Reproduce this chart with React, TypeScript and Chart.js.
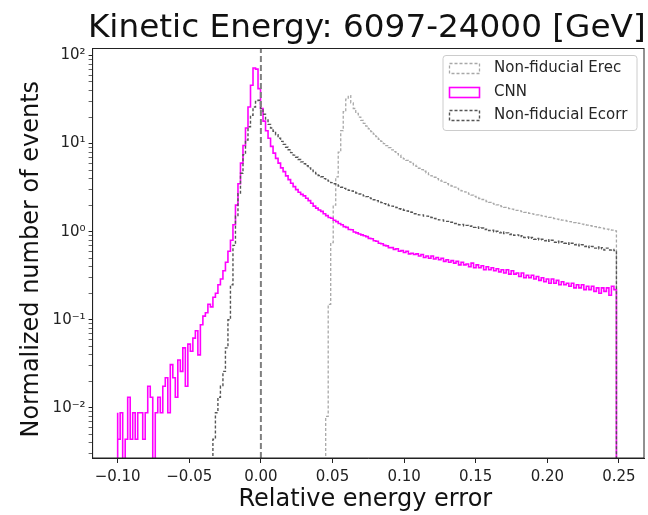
import React, { useEffect, useRef } from "react";
import { Chart, registerables } from "chart.js";

Chart.register(...registerables);

// ---------- texts ----------
const TITLE = "Kinetic Energy: 6097-24000 [GeV]";
const X_LABEL = "Relative energy error";
const Y_LABEL = "Normalized number of events";

// ---------- histogram bins (common grid from -0.10 to 0.25, 200 bins) ----------
const BIN_WIDTH = 0.00175;

// CNN histogram (first bin starts at CNN_START)
const CNN_START = -0.1;
const CNN_VALUES = [
  0.0088, 0.0044, 0.0088, 0, 0.0044, 0.0132, 0.0044, 0.0088, 0.0044, 0.0088,
  0.0088, 0.0044, 0.0088, 0.0176, 0.0132, 0, 0.0088, 0.0132, 0.0088, 0.0176,
  0.022, 0.0088, 0.031, 0.022, 0.0132, 0.035, 0.026, 0.048, 0.0176, 0.053,
  0.044, 0.062, 0.075, 0.04, 0.088, 0.11, 0.12, 0.15, 0.14, 0.18,
  0.2, 0.25, 0.29, 0.36, 0.45, 0.6, 0.8, 1.2, 2.0, 3.5,
  6.0, 9.5, 15, 26, 46, 72, 70, 42, 25, 18,
  14, 11.5, 9.3, 7.8, 6.8, 6.0, 5.3, 4.8, 4.3, 3.9,
  3.55, 3.25, 3.0, 2.8, 2.65, 2.55, 2.4, 2.25, 2.1, 1.95,
  1.85, 1.76, 1.7, 1.6, 1.52, 1.45, 1.42, 1.35, 1.3, 1.24,
  1.2, 1.14, 1.12, 1.06, 1.05, 0.99, 0.97, 0.94, 0.92, 0.9,
  0.88, 0.84, 0.83, 0.79, 0.78, 0.74, 0.73, 0.7, 0.69, 0.66,
  0.66, 0.63, 0.64, 0.6, 0.61, 0.58, 0.6, 0.56, 0.57, 0.55,
  0.56, 0.53, 0.55, 0.51, 0.53, 0.5, 0.53, 0.49, 0.51, 0.48,
  0.5, 0.46, 0.48, 0.45, 0.47, 0.44, 0.46, 0.42, 0.45, 0.42,
  0.43, 0.4, 0.44, 0.39, 0.42, 0.39, 0.41, 0.37, 0.4, 0.37,
  0.39, 0.36, 0.38, 0.35, 0.37, 0.34, 0.37, 0.33, 0.36, 0.33,
  0.34, 0.31, 0.34, 0.3, 0.32, 0.3, 0.32, 0.29, 0.31, 0.28,
  0.3, 0.27, 0.29, 0.26, 0.29, 0.26, 0.28, 0.25, 0.27, 0.25,
  0.26, 0.24, 0.26, 0.23, 0.25, 0.23, 0.25, 0.22, 0.24, 0.22,
  0.24, 0.21, 0.23, 0.2, 0.23, 0.21, 0.23, 0.19, 0.24, 0.22,
];

// Non-fiducial Erec histogram
const EREC_START = 0.04525;
const EREC_VALUES = [
  0.0044, 0.008, 0.15, 0.75, 2.0, 4.2, 8.0, 14, 23, 32,
  35, 29, 25, 22, 20, 18.3, 17, 15.8, 14.7, 13.7,
  12.8, 12.0, 11.2, 10.6, 10.0, 9.5, 9.0, 8.5, 8.1, 7.7,
  7.4, 7.0, 6.7, 6.45, 6.2, 5.95, 5.7, 5.5, 5.25, 5.05,
  4.85, 4.65, 4.45, 4.3, 4.15, 4.0, 3.87, 3.75, 3.63, 3.5,
  3.4, 3.3, 3.2, 3.1, 3.0, 2.9, 2.83, 2.75, 2.67, 2.6,
  2.52, 2.45, 2.38, 2.32, 2.26, 2.2, 2.15, 2.1, 2.06, 2.01,
  1.97, 1.93, 1.89, 1.86, 1.83, 1.8, 1.78, 1.75, 1.72, 1.69,
  1.66, 1.64, 1.61, 1.59, 1.57, 1.55, 1.53, 1.51, 1.49, 1.47,
  1.45, 1.43, 1.41, 1.39, 1.37, 1.35, 1.34, 1.32, 1.3, 1.29,
  1.27, 1.25, 1.24, 1.22, 1.2, 1.19, 1.17, 1.16, 1.14, 1.13,
  1.11, 1.1, 1.08, 1.07, 1.05, 1.04, 1.02,
];

// Non-fiducial Ecorr histogram
const ECORR_START = -0.0335;
const ECORR_VALUES = [
  0.0044, 0.0044, 0.0088, 0.0132, 0.0176, 0.026, 0.048, 0.1, 0.25, 0.7,
  1.5, 2.7, 4.6, 7.5, 11, 15.5, 21, 26, 30, 31,
  25, 21.5, 18.5, 16.5, 15, 13.8, 12.6, 11.5, 10.6, 9.8,
  9.1, 8.5, 7.9, 7.4, 7.0, 6.6, 6.2, 5.9, 5.6, 5.3,
  5.0, 4.8, 4.55, 4.35, 4.2, 4.0, 3.85, 3.75, 3.6, 3.5,
  3.4, 3.3, 3.2, 3.1, 3.05, 2.95, 2.9, 2.8, 2.75, 2.68,
  2.62, 2.55, 2.5, 2.42, 2.38, 2.3, 2.25, 2.18, 2.14, 2.08,
  2.05, 1.98, 1.95, 1.9, 1.88, 1.82, 1.8, 1.75, 1.72, 1.67,
  1.66, 1.6, 1.6, 1.55, 1.55, 1.5, 1.5, 1.46, 1.45, 1.41,
  1.4, 1.36, 1.36, 1.32, 1.31, 1.28, 1.28, 1.24, 1.24, 1.2,
  1.21, 1.17, 1.18, 1.15, 1.16, 1.12, 1.13, 1.09, 1.1, 1.06,
  1.07, 1.03, 1.04, 1.0, 1.01, 0.97, 0.99, 0.95, 0.97, 0.93,
  0.94, 0.91, 0.92, 0.88, 0.9, 0.86, 0.87, 0.84, 0.86, 0.82,
  0.84, 0.81, 0.82, 0.79, 0.81, 0.78, 0.8, 0.76, 0.78, 0.75,
  0.77, 0.74, 0.75, 0.72, 0.74, 0.71, 0.72, 0.69, 0.71, 0.68,
  0.69, 0.66, 0.68, 0.65, 0.67, 0.64, 0.66, 0.62, 0.65, 0.62,
  0.63, 0.61,
];

const SERIES_LABELS = ["Non-fiducial Erec", "CNN", "Non-fiducial Ecorr"];
const ZERO_LINE_X = 0;

// ---------- axes ----------
const X_MIN = -0.1175;
const X_MAX = 0.2675;
const Y_MIN = 0.0027;
const Y_MAX = 120;
const X_TICKS = [-0.1, -0.05, 0, 0.05, 0.1, 0.15, 0.2, 0.25];
const X_TICK_LABELS = ["−0.10", "−0.05", "0.00", "0.05", "0.10", "0.15", "0.20", "0.25"];
const Y_MAJOR_TICKS = [0.01, 0.1, 1, 10, 100];
const Y_TICK_LABELS = ["10⁻²", "10⁻¹", "10⁰", "10¹", "10²"];
const Y_DECADES = [-3, -2, -1, 0, 1, 2];

const FONT = '"DejaVu Sans", "Liberation Sans", sans-serif';

function stepPoints(start: number, values: number[]) {
  const floor = Y_MIN / 10;
  const pts: { x: number; y: number }[] = [{ x: start, y: floor }];
  values.forEach((v, i) => {
    pts.push({ x: start + i * BIN_WIDTH, y: v > 0 ? v : floor });
  });
  pts.push({ x: start + values.length * BIN_WIDTH, y: floor });
  return pts;
}

const decorPlugin = {
  id: "decor",
  afterDraw(chart: any) {
    const { ctx, chartArea: a } = chart;
    ctx.save();
    // frame (spines)
    ctx.setLineDash([]);
    ctx.strokeStyle = "#222";
    ctx.lineWidth = 1;
    ctx.strokeRect(a.left, a.top, a.right - a.left, a.bottom - a.top);

    // title
    ctx.fillStyle = "#111";
    ctx.textAlign = "center";
    ctx.textBaseline = "alphabetic";
    ctx.font = `32.7px ${FONT}`;
    ctx.fillText(TITLE, (a.left + a.right) / 2 - 1.5, 37);

    // x label
    ctx.font = `24px ${FONT}`;
    ctx.fillText(X_LABEL, (a.left + a.right) / 2 - 3, 506);

    // y label
    ctx.save();
    ctx.translate(38, (a.top + a.bottom) / 2 + 6);
    ctx.rotate(-Math.PI / 2);
    ctx.fillText(Y_LABEL, 0, 0);
    ctx.restore();

    // legend
    const boxW = 194;
    const boxH = 75;
    const bx = a.right - 7 - boxW;
    const by = a.top + 7;
    const r = 3;
    ctx.beginPath();
    ctx.moveTo(bx + r, by);
    ctx.lineTo(bx + boxW - r, by);
    ctx.arcTo(bx + boxW, by, bx + boxW, by + r, r);
    ctx.lineTo(bx + boxW, by + boxH - r);
    ctx.arcTo(bx + boxW, by + boxH, bx + boxW - r, by + boxH, r);
    ctx.lineTo(bx + r, by + boxH);
    ctx.arcTo(bx, by + boxH, bx, by + boxH - r, r);
    ctx.lineTo(bx, by + r);
    ctx.arcTo(bx, by, bx + r, by, r);
    ctx.closePath();
    ctx.fillStyle = "rgba(255,255,255,0.8)";
    ctx.fill();
    ctx.strokeStyle = "#cccccc";
    ctx.lineWidth = 1;
    ctx.stroke();

    const rowY = [by + 13, by + 37, by + 60];
    ctx.font = `15px ${FONT}`;
    ctx.textAlign = "left";
    ctx.textBaseline = "middle";
    SERIES_LABELS.forEach((label, i) => {
      const ds = chart.data.datasets[i];
      ctx.save();
      ctx.strokeStyle = ds.borderColor;
      ctx.lineWidth = ds.borderWidth;
      ctx.setLineDash(ds.borderDash || []);
      ctx.strokeRect(bx + 6.5, rowY[i] - 5, 30, 10);
      ctx.restore();
      ctx.fillStyle = "#262626";
      ctx.fillText(label, bx + 51, rowY[i]);
    });
    ctx.restore();
  },
};

export default function App() {
  const ref = useRef<HTMLCanvasElement>(null);

  useEffect(() => {
    if (!ref.current) return;
    const common = {
      showLine: true,
      stepped: "after" as const,
      pointRadius: 0,
      pointHoverRadius: 0,
      fill: false,
      tension: 0,
      clip: 0,
    };
    const chart = new Chart(ref.current, {
      type: "line",
      data: {
        datasets: [
          {
            ...common,
            label: SERIES_LABELS[0],
            data: stepPoints(EREC_START, EREC_VALUES),
            borderColor: "#a8a8a8",
            borderWidth: 1.3,
            borderDash: [3, 2],
            order: 4,
          },
          {
            ...common,
            label: SERIES_LABELS[1],
            data: stepPoints(CNN_START, CNN_VALUES),
            borderColor: "#ff00ff",
            borderWidth: 1.6,
            borderDash: [],
            order: 3,
          },
          {
            ...common,
            label: SERIES_LABELS[2],
            data: stepPoints(ECORR_START, ECORR_VALUES),
            borderColor: "#555555",
            borderWidth: 1.4,
            borderDash: [3, 2],
            order: 2,
          },
          {
            ...common,
            stepped: false,
            label: "zero",
            data: [
              { x: ZERO_LINE_X, y: Y_MIN },
              { x: ZERO_LINE_X, y: Y_MAX },
            ],
            borderColor: "#7f7f7f",
            borderWidth: 2,
            borderDash: [6, 3],
            order: 1,
          },
        ],
      } as any,
      options: {
        responsive: false,
        animation: false,
        devicePixelRatio: 1,
        events: [],
        layout: { padding: { top: 48.5, right: 4, bottom: 0, left: 0 } },
        plugins: {
          legend: { display: false },
          tooltip: { enabled: false },
          title: { display: false },
        },
        scales: {
          x: {
            type: "linear",
            min: X_MIN,
            max: X_MAX,
            afterBuildTicks: (scale: any) => {
              scale.ticks = X_TICKS.map((v) => ({ value: v }));
            },
            afterFit: (scale: any) => {
              scale.height = 57;
            },
            ticks: {
              autoSkip: false,
              maxRotation: 0,
              minRotation: 0,
              padding: 5,
              color: "#222",
              font: { family: FONT, size: 15 },
              callback: (_v: any, i: number) => X_TICK_LABELS[i],
            },
            grid: {
              drawOnChartArea: false,
              drawTicks: true,
              tickLength: 5,
              tickColor: "#222",
              tickWidth: 1,
            },
            border: { display: true, color: "#222", width: 1 },
          },
          y: {
            type: "logarithmic",
            min: Y_MIN,
            max: Y_MAX,
            afterBuildTicks: (scale: any) => {
              const ticks: any[] = [];
              for (const d of Y_DECADES) {
                for (let m = 1; m <= 9; m++) {
                  const v = m * Math.pow(10, d);
                  if (v >= Y_MIN && v <= Y_MAX) ticks.push({ value: v, major: m === 1 });
                }
              }
              scale.ticks = ticks;
            },
            afterFit: (scale: any) => {
              scale.width = 92.6;
            },
            ticks: {
              autoSkip: false,
              padding: 3,
              color: "#222",
              font: { family: FONT, size: 15 },
              callback: (value: any) => {
                const idx = Y_MAJOR_TICKS.findIndex(
                  (t) => Math.abs(t - Number(value)) / t < 1e-6
                );
                return idx >= 0 ? Y_TICK_LABELS[idx] : "";
              },
            },
            grid: {
              drawOnChartArea: false,
              drawTicks: true,
              tickLength: 4,
              tickColor: "#222",
              tickWidth: (ctx: any) => (ctx.tick && ctx.tick.major ? 1 : 0.7),
            },
            border: { display: true, color: "#222", width: 1 },
          },
        },
      } as any,
      plugins: [decorPlugin],
    });
    return () => chart.destroy();
  }, []);

  return (
    <div
      style={{
        position: "fixed",
        left: 0,
        top: 0,
        width: 648,
        height: 515,
        background: "#ffffff",
      }}
    >
      <canvas
        ref={ref}
        width={648}
        height={515}
        style={{ display: "block", width: 648, height: 515 }}
      />
    </div>
  );
}
